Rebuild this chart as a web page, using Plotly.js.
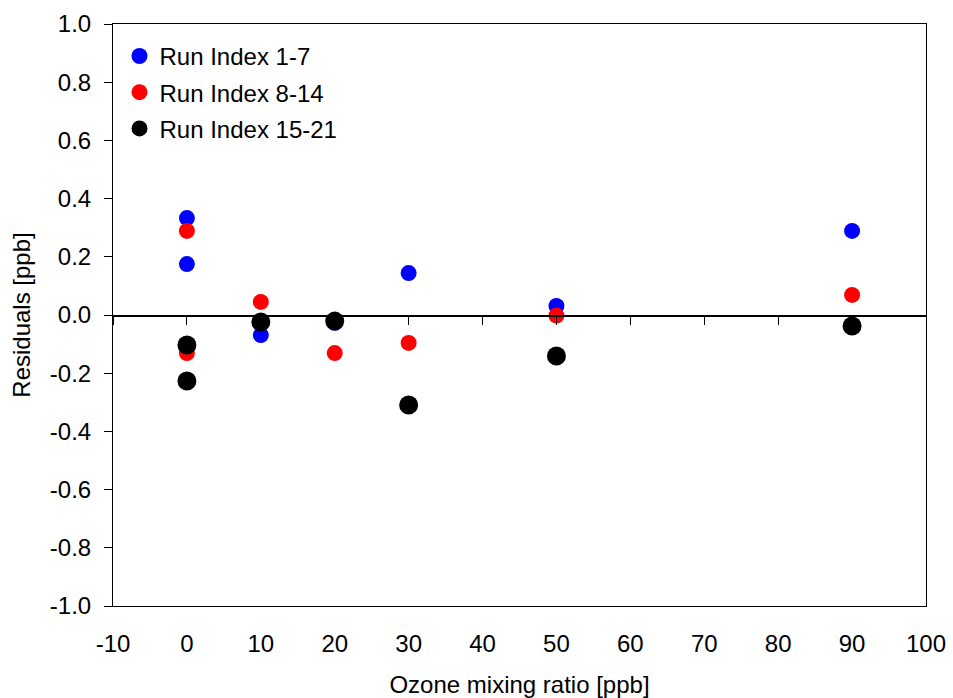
<!DOCTYPE html>
<html>
<head>
<meta charset="utf-8">
<script src="https://cdn.plot.ly/plotly-3.0.1.min.js"></script>
<style>html,body{margin:0;padding:0;background:#fff;}#chart{width:953px;height:698px;}</style>
</head>
<body>
<div id="chart"></div>
<script>
const ozone = [0, 0, 10, 20, 30, 50, 90];
const ozoneRed = [0, 0, 10, 20, 30, 50, 90];
const ozoneBlack = [0, 0, 10, 20, 30, 50, 90];
const runs1to7 = [0.333, 0.175, -0.069, -0.027, 0.144, 0.031, 0.289];
const runs8to14 = [0.289, -0.131, 0.045, -0.131, -0.096, -0.002, 0.069];
const runs15to21 = [-0.103, -0.227, -0.024, -0.021, -0.309, -0.141, -0.038];
const seriesNames = ['Run Index 1-7', 'Run Index 8-14', 'Run Index 15-21'];
const xTicks = [-10, 0, 10, 20, 30, 40, 50, 60, 70, 80, 90, 100];
const yTicks = [-1.0, -0.8, -0.6, -0.4, -0.2, 0.0, 0.2, 0.4, 0.6, 0.8, 1.0];

const fam = "Arial, 'Liberation Sans', sans-serif";
const font = {family: fam, size: 24, color: '#000'};

const traces = [
  {x: ozone, y: runs1to7, name: seriesNames[0], type: 'scatter', mode: 'markers',
   marker: {color: '#0000ff', size: 16}, legendgroup: 'a', cliponaxis: false},
  {x: ozoneRed, y: runs8to14, name: seriesNames[1], type: 'scatter', mode: 'markers',
   marker: {color: '#ff0000', size: 16}, legendgroup: 'b', cliponaxis: false},
  {x: ozoneBlack, y: runs15to21, name: seriesNames[2], type: 'scatter', mode: 'markers',
   marker: {color: '#000000', size: 19}, legendgroup: 'c', cliponaxis: false},
  {x: [], y: [], xaxis: 'x2', yaxis: 'y', showlegend: false, hoverinfo: 'skip'}
];

const layout = {
  width: 953, height: 698,
  margin: {l: 113, r: 27, t: 24, b: 92},
  paper_bgcolor: '#fff', plot_bgcolor: '#fff',
  font: font,
  showlegend: true,
  legend: {x: 0.008, y: 0.983, xanchor: 'left', yanchor: 'top', bgcolor: 'rgba(0,0,0,0)',
           font: font, traceorder: 'grouped', tracegroupgap: 2, itemsizing: 'trace'},
  xaxis: {
    range: [-10, 100], tickvals: xTicks, ticktext: xTicks.map(String),
    ticks: '', showgrid: false, zeroline: false,
    showline: true, linecolor: '#000', linewidth: 1, mirror: true,
    tickfont: font, ticklabelstandoff: 16,
    title: {text: 'Ozone mixing ratio [ppb]', font: font, standoff: 20}
  },
  xaxis2: {
    range: [-10, 100], tickvals: xTicks, overlaying: 'x', anchor: 'free', position: 0.5,
    ticks: 'outside', ticklen: 8, tickcolor: '#000', tickwidth: 1,
    showticklabels: false, showgrid: false, zeroline: false,
    showline: true, linecolor: '#000', linewidth: 1.5, side: 'bottom'
  },
  yaxis: {
    range: [-1, 1], tickvals: yTicks, ticktext: yTicks.map(v => v.toFixed(1)),
    ticks: 'outside', ticklen: 8, tickcolor: '#000', tickwidth: 1,
    showgrid: false, zeroline: false,
    showline: true, linecolor: '#000', linewidth: 1, mirror: true,
    tickfont: font, ticklabelstandoff: 8,
    title: {text: 'Residuals [ppb]', font: font, standoff: 12}
  }
};

Plotly.newPlot('chart', traces, layout, {displayModeBar: false, staticPlot: true});
</script>
</body>
</html>
